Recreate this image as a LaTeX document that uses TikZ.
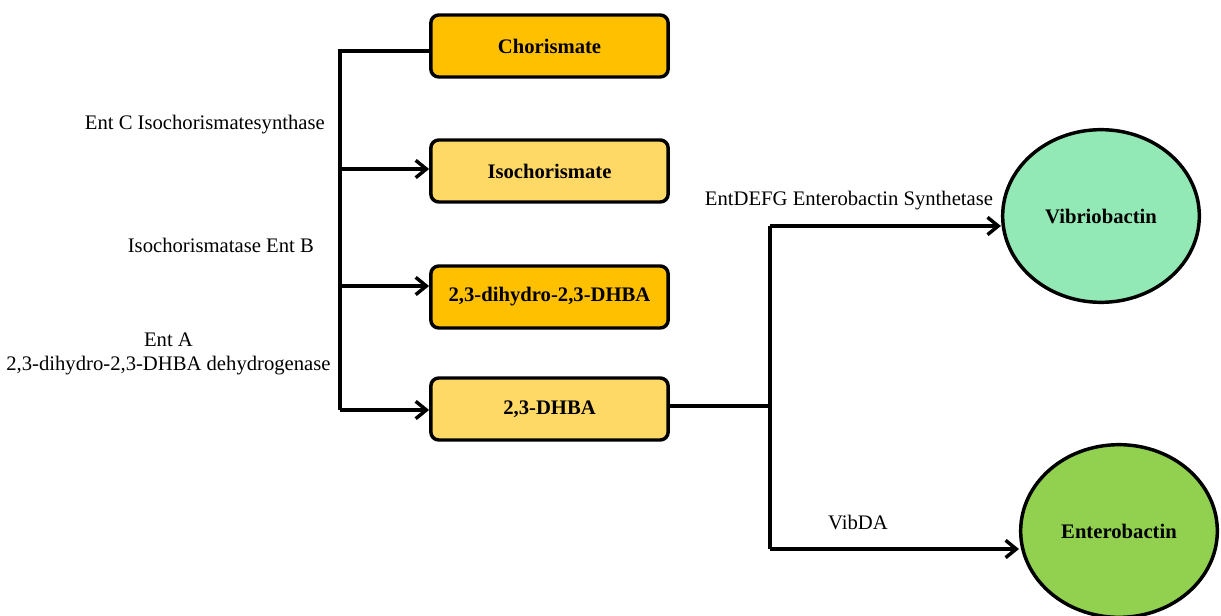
\documentclass[tikz,border=0pt]{standalone}
\usepackage{fontspec}
\setmainfont{Liberation Serif}
\usetikzlibrary{arrows.meta,shapes.geometric}
\definecolor{darkgold}{HTML}{FFC000}
\definecolor{lightgold}{HTML}{FFD966}
\definecolor{mint}{HTML}{93E9B5}
\definecolor{leaf}{HTML}{92D050}

\begin{document}
\begin{tikzpicture}[x=0.75pt,y=-0.75pt,line width=2.6pt,
	font=\fontsize{15.5}{18}\selectfont,
	>={Straight Barb[length=8pt,width=13pt,line width=2.6pt]},
	box/.style={draw,rounded corners=6pt,minimum width=178pt,minimum height=46.5pt,font=\fontsize{15.5}{18}\selectfont\bfseries},
	blob/.style={draw,ellipse,minimum width=147.5pt,minimum height=129.5pt,font=\fontsize{15.5}{18}\selectfont\bfseries}]

	\useasboundingbox (0,0) rectangle (1221,616);

	\node[box,fill=darkgold]  (cho)  at (549.5,46)  {Chorismate};
	\node[box,fill=lightgold] (iso)  at (549.5,171) {Isochorismate};
	\node[box,fill=darkgold]  (dih)  at (549.5,297) {2,3-dihydro-2,3-DHBA};
	\node[box,fill=lightgold] (dhba) at (549.5,409) {2,3-DHBA};
	\node[blob,fill=mint] (vib) at (1101,216) {Vibriobactin};
	\node[blob,fill=leaf] (ent) at (1119,531) {Enterobactin};

	\coordinate (j1) at (340,51);
	\coordinate (j2) at (340,169);
	\coordinate (j3) at (340,286);
	\coordinate (j4) at (340,410);
	\draw (cho.west |- j1) -- (j1) -- (j4);
	\draw[->] (j2) -- (iso.west |- j2);
	\draw[->] (j3) -- (dih.west |- j3);
	\draw[->] (j4) -- (dhba.west |- j4);

	\coordinate (k0) at (770,406);
	\coordinate (k1) at (770,226);
	\coordinate (k2) at (770,549);
	\draw (dhba.east |- k0) -- (k0);
	\draw (k1) -- (k2);
	\draw[->] (k1) -- (vib.west |- k1);
	\draw[->] (k2) -- (1019,549);

	\node[anchor=east] (lc) at (331,125) {Ent C Isochorismatesynthase};
	\node[anchor=east] (lb) at (320,245) {Isochorismatase Ent B};
	\node[align=center] (la) at (168.5,354) {Ent A\\2,3-dihydro-2,3-DHBA dehydrogenase};
	\node (ld) at (849,201) {EntDEFG Enterobactin Synthetase};
	\node (lv) at (858,522) {VibDA};

\end{tikzpicture}
\end{document}
